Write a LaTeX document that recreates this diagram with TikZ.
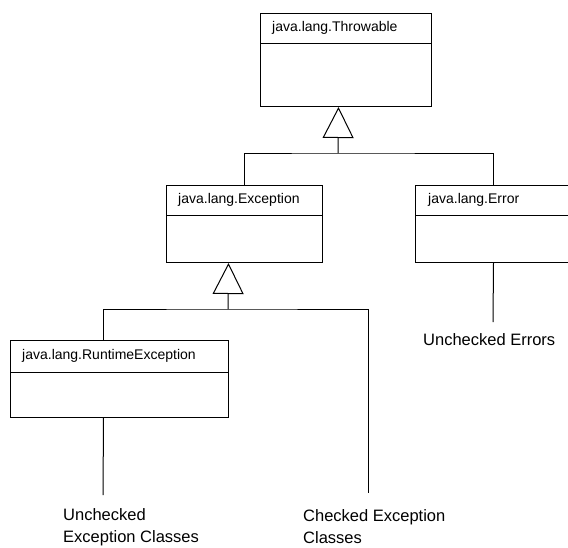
\documentclass[tikz,border=0pt]{standalone}
\usepackage{fontspec}
\setmainfont{Liberation Sans}
\usepackage{tikz}
\usetikzlibrary{arrows.meta,calc}

\tikzset{
  classbox/.style={draw, line width=1pt, anchor=north west, inner sep=0pt},
  classname/.style={anchor=west, inner sep=0pt, font=\fontsize{14}{17}\selectfont},
  note/.style={anchor=base west, align=left, inner sep=0pt, font=\fontsize{16.5}{21.5}\selectfont},
  link/.style={line width=1pt},
  inherit/.style={line width=1pt, -{Triangle[open, length=31pt, width=31pt, fill=white]}},
}

\begin{document}
\begin{tikzpicture}[x=1pt, y=-1pt]%
\useasboundingbox (0,0) rectangle (568,547);%
\node[classbox, minimum width=171pt, minimum height=93pt] (throwable) at (260,13) {};%
\node[classname] (throwable-name) at ($(throwable.north west)+(12,15)$) {java.lang.Throwable};%
\draw[link] ($(throwable.north west)+(0,30)$) -- ($(throwable.north east)+(0,30)$);%
\node[classbox, minimum width=156pt, minimum height=77pt] (exception) at (166,185) {};%
\node[classname] (exception-name) at ($(exception.north west)+(12,15)$) {java.lang.Exception};%
\draw[link] ($(exception.north west)+(0,30)$) -- ($(exception.north east)+(0,30)$);%
\node[classbox, minimum width=156pt, minimum height=77pt] (error) at (415,185) {};%
\node[classname] (error-name) at ($(error.north west)+(13,15)$) {java.lang.Error};%
\draw[link] ($(error.north west)+(0,30)$) -- ($(error.north east)+(0,30)$);%
\node[classbox, minimum width=218pt, minimum height=77pt] (runtime) at (10,340) {};%
\node[classname] (runtime-name) at ($(runtime.north west)+(12,16)$) {java.lang.RuntimeException};%
\draw[link] ($(runtime.north west)+(0,32)$) -- ($(runtime.north east)+(0,32)$);%
\coordinate (bar1) at (338,153);%
\draw[inherit] (bar1) -- ($(throwable.south)+(-7.5,0)$);%
\draw[link] (exception.north) |- (bar1) -| (error.north);%
\coordinate (bar2) at (228,309);%
\draw[inherit] (bar2) -- ($(exception.south)+(-16,0)$);%
\coordinate (checked-end) at (368,493);%
\draw[link] ($(runtime.north)+(-16,0)$) |- (bar2) -| (checked-end);%
\coordinate (runtime-end) at (103,495);%
\draw[link] ($(runtime.south)+(-16,0)$) -- (runtime-end);%
\coordinate (error-end) at (493,322);%
\draw[link] (error.south) -- (error-end);%
\node[note] (unchecked-exc) at (63,542) {Unchecked\\Exception Classes};%
\node[note] (checked-exc) at (303,543) {Checked Exception\\Classes};%
\node[note] (unchecked-err) at (423,345) {Unchecked Errors};%
\end{tikzpicture}
\end{document}
